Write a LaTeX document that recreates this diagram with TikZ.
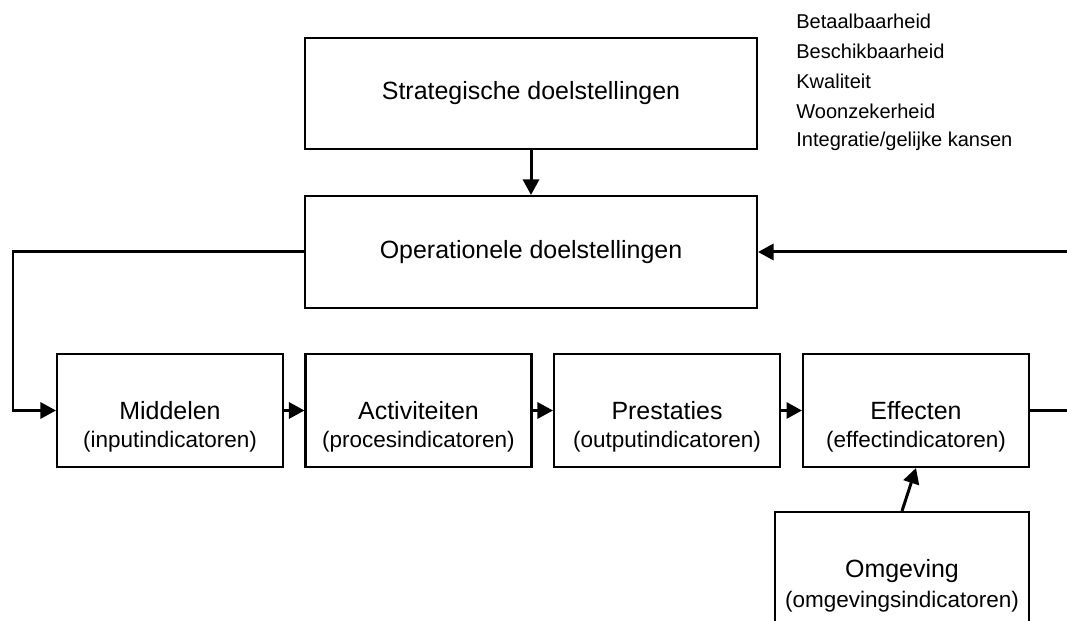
\documentclass[tikz,border=0pt]{standalone}
\usepackage{fontspec}
\setmainfont{Liberation Sans}
\usepackage{xcolor}
\usepackage{tikz}
\usetikzlibrary{calc,arrows.meta}

\begin{document}
\begin{tikzpicture}[box/.style={draw=black, line width=1.15pt, fill=white, minimum width=4.52cm, minimum height=2.26cm, inner sep=0pt, font=\fontsize{14.2}{17}\selectfont}, sub/.style={inner sep=0pt, font=\fontsize{12.8}{15}\selectfont}, goal/.style={box, minimum width=9.04cm}, arrow/.style={-{Triangle[length=0.31cm, width=0.32cm]}, draw=black, line width=1.7pt}, item/.style={anchor=west, inner sep=0pt, font=\fontsize{11.4}{13.7}\selectfont}]
\useasboundingbox (0,0) rectangle (21.34,12.42);
\clip (0,0) rectangle (21.34,12.42);
\node[goal, minimum height=2.22cm] (strat) at (10.62,10.55) {Strategische doelstellingen};
\node[goal, minimum height=2.24cm] (op) at (10.62,7.38) {Operationele doelstellingen};
\node[box] (mid) at (3.40,4.21) {Middelen};
\node[box] (act) at (8.37,4.21) {Activiteiten};
\node[box] (pres) at (13.34,4.21) {Prestaties};
\node[box] (eff) at (18.32,4.21) {Effecten};
\node[box, minimum width=5.08cm, text depth=0pt] (omg) at (18.04,1.05) {Omgeving};
\node[sub] (mid-sub) at ([yshift=-0.62cm]mid.center) {(inputindicatoren)};
\node[sub] (act-sub) at ([yshift=-0.62cm]act.center) {(procesindicatoren)};
\node[sub] (pres-sub) at ([yshift=-0.62cm]pres.center) {(outputindicatoren)};
\node[sub] (eff-sub) at ([yshift=-0.62cm]eff.center) {(effectindicatoren)};
\node[sub] (omg-sub) at ([yshift=-0.66cm]omg.center) {(omgevingsindicatoren)};
% aspecten van de strategische doelen
\node[item] (i1) at (15.92,11.99) {Betaalbaarheid};
\node[item] (i2) at (15.92,11.39) {Beschikbaarheid};
\node[item] (i3) at (15.92,10.79) {Kwaliteit};
\node[item] (i4) at (15.92,10.19) {Woonzekerheid};
\node[item] (i5) at (15.92,9.59) {Integratie/gelijke kansen};
\draw[arrow] (strat) -- (op);
\draw[arrow] (mid) -- (act);
\draw[arrow] (act) -- (pres);
\draw[arrow] (pres) -- (eff);
\draw[arrow] (omg.north) -- (eff.south);
% terugkoppeling
\coordinate (back) at (0.26,0);
\coordinate (fwd) at (21.60,0);
\draw[arrow] (op.west) -- (op.west -| back) |- (mid.west);
\draw[arrow] (eff.east) -- (eff.east -| fwd) |- (op.east);
\end{tikzpicture}
\end{document}
